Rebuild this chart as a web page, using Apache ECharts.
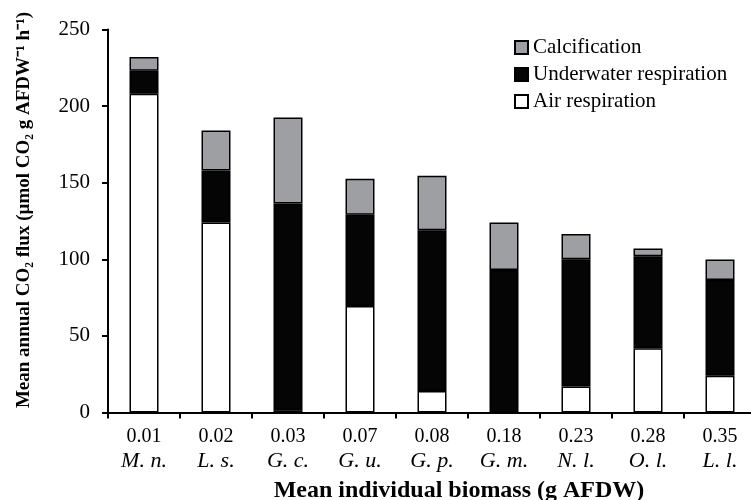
<!DOCTYPE html>
<html>
<head>
<meta charset="utf-8">
<script src="https://cdn.jsdelivr.net/npm/echarts@6/dist/echarts.min.js"></script>
<style>html,body{margin:0;padding:0;background:#fff;}#c{width:751px;height:500px;}</style>
</head>
<body>
<div id="c"></div>
<script>
var biomass = ['0.01','0.02','0.03','0.07','0.08','0.18','0.23','0.28','0.35'];
var species = ['M. n.','L. s.','G. c.','G. u.','G. p.','G. m.','N. l.','O. l.','L. l.'];
var airResp = [208, 124, 1.5, 69.5, 14, 0, 17, 42, 24];
var underwaterResp = [15, 34, 135, 59.5, 105, 93, 83, 60, 62.5];
var calcification = [9, 26, 56, 23.5, 35.5, 31, 16.5, 5, 13.3];
var yTicks = [0, 50, 100, 150, 200, 250];

var serif = 'Liberation Serif';
var chart = echarts.init(document.getElementById('c'), null, {renderer: 'canvas'});
function bar(name, data, color) {
  return {
    name: name, type: 'bar', stack: 'total', data: data, barWidth: 29,
    itemStyle: {color: color, borderColor: '#000', borderWidth: 1.5},
    emphasis: {disabled: true}
  };
}
chart.setOption({
  animation: false,
  backgroundColor: '#fff',
  grid: {left: 108, top: 29.5, width: 648, bottom: 87.5, containLabel: false, outerBoundsMode: 'none'},
  legend: {
    orient: 'vertical', left: 509, top: 32, itemWidth: 13, itemHeight: 13, itemGap: 6,
    icon: 'rect',
    data: ['Calcification', 'Underwater respiration', 'Air respiration'],
    textStyle: {fontFamily: serif, fontSize: 21, color: '#000'}
  },
  xAxis: {
    type: 'category', data: biomass,
    name: 'Mean individual biomass (g AFDW)', nameLocation: 'middle', nameGap: 66,
    nameMoveOverlap: false,
    nameTextStyle: {fontFamily: serif, fontSize: 24, fontWeight: 'bold', color: '#000', padding: [0, 0, 0, 54]},
    axisLine: {lineStyle: {color: '#000', width: 2}},
    axisTick: {show: true, length: 6, lineStyle: {color: '#000', width: 2}, alignWithLabel: false},
    axisLabel: {
      margin: 12, interval: 0,
      formatter: function (v, i) { return '{a|' + v + '}\n{b|' + species[i] + '}'; },
      rich: {
        a: {fontFamily: serif, fontSize: 20, color: '#000', lineHeight: 24},
        b: {fontFamily: serif, fontSize: 22, fontStyle: 'italic', color: '#000', lineHeight: 26}
      }
    }
  },
  yAxis: {
    type: 'value', min: 0, max: 250, interval: 50,
    name: 'Mean annual CO\u2082 flux (\u00b5mol CO\u2082 g AFDW\u207b\u00b9 h\u207b\u00b9)',
    nameLocation: 'middle', nameGap: 74, nameMoveOverlap: false,
    nameTextStyle: {fontFamily: serif, fontSize: 19, fontWeight: 'bold', color: '#000', padding: [0, 0, 0, 22]},
    axisLine: {show: true, lineStyle: {color: '#000', width: 2}},
    axisTick: {show: true, length: 6, lineStyle: {color: '#000', width: 2}},
    splitLine: {show: false},
    axisLabel: {
      margin: 18, fontFamily: serif, fontSize: 21, color: '#000',
      formatter: function (v) { return yTicks.indexOf(v) >= 0 ? String(v) : ''; }
    }
  },
  series: [
    bar('Air respiration', airResp, '#ffffff'),
    bar('Underwater respiration', underwaterResp, '#050505'),
    bar('Calcification', calcification, '#9e9fa3')
  ]
});
</script>
</body>
</html>
